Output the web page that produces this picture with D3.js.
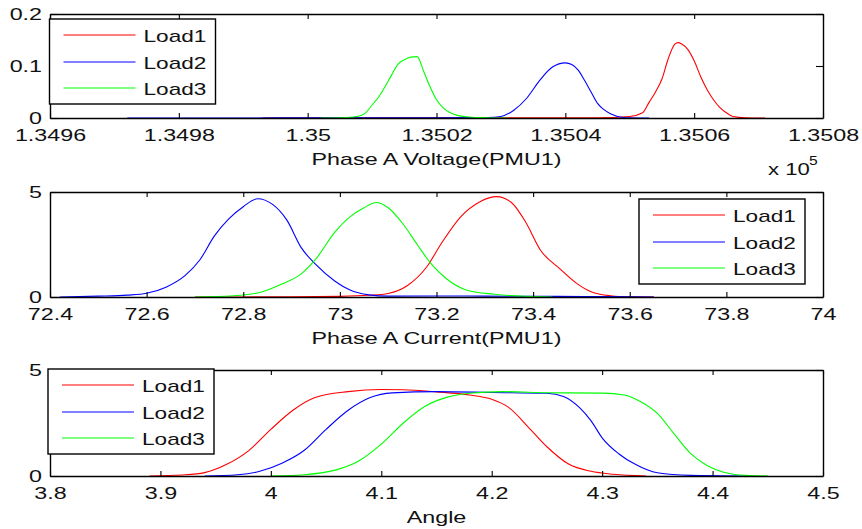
<!DOCTYPE html>
<html>
<head>
<meta charset="utf-8">
<script src="https://cdn.jsdelivr.net/npm/d3@7"></script>
<style>
  body { margin: 0; background: #fff; }
  text { font-family: "Liberation Sans", Arial, sans-serif; fill: #111; }
</style>
</head>
<body>
<div id="chart"></div>
<script>
// ---- data ----
var seriesNames = ["Load1", "Load2", "Load3"];

// Phase A voltage (x in units of 1e5 V)
var voltX1 = [1.34993, 1.35045, 1.3505, 1.35052, 1.35053, 1.35054, 1.35055, 1.35056, 1.35057, 1.350575, 1.35058, 1.35059, 1.3506, 1.35061, 1.35062, 1.35063, 1.35064, 1.35065, 1.35066, 1.35068, 1.35071];
var voltY1 = [0, 0.0005, 0.003, 0.01, 0.03, 0.05, 0.075, 0.115, 0.142, 0.145, 0.143, 0.132, 0.11, 0.08, 0.055, 0.035, 0.02, 0.01, 0.003, 0.0005, 0];
var voltX2 = [1.34972, 1.3502, 1.35028, 1.3503, 1.35032, 1.35034, 1.35036, 1.35038, 1.3504, 1.35041, 1.35042, 1.35043, 1.35044, 1.35045, 1.35046, 1.35047, 1.35049, 1.35053];
var voltY2 = [0, 0.0005, 0.001, 0.003, 0.015, 0.038, 0.072, 0.098, 0.106, 0.103, 0.092, 0.072, 0.05, 0.028, 0.016, 0.008, 0.001, 0];
var voltX3 = [1.35002, 1.35006, 1.35008, 1.35009, 1.3501, 1.35011, 1.35012, 1.35013, 1.35014, 1.35015, 1.35016, 1.35017, 1.35018, 1.35019, 1.3502, 1.35021, 1.35022, 1.35023, 1.35025, 1.35028, 1.35031];
var voltY3 = [0, 0.001, 0.004, 0.01, 0.025, 0.04, 0.06, 0.082, 0.103, 0.112, 0.117, 0.118, 0.09, 0.06, 0.035, 0.02, 0.011, 0.006, 0.002, 0.0005, 0];

// Phase A current
var currX1 = [72.7, 72.9, 73.0, 73.06, 73.1, 73.14, 73.18, 73.21, 73.25, 73.29, 73.325, 73.355, 73.385, 73.415, 73.455, 73.49, 73.52, 73.56, 73.6, 73.65];
var currY1 = [0, 0.01, 0.03, 0.08, 0.17, 0.55, 1.44, 2.55, 3.82, 4.54, 4.78, 4.5, 3.55, 2.24, 1.35, 0.65, 0.25, 0.06, 0.01, 0];
var currX2 = [72.42, 72.5, 72.56, 72.6, 72.64, 72.68, 72.71, 72.74, 72.77, 72.8, 72.83, 72.86, 72.89, 72.92, 72.95, 72.99, 73.02, 73.06, 73.1, 73.2, 73.3, 73.45, 73.55, 73.65];
var currY2 = [0, 0.04, 0.09, 0.18, 0.47, 1.03, 1.76, 2.9, 3.72, 4.3, 4.68, 4.42, 3.67, 2.35, 1.55, 0.75, 0.34, 0.1, 0.04, 0.05, 0.04, 0.03, 0.02, 0];
var currX3 = [72.7, 72.78, 72.84, 72.88, 72.92, 72.95, 72.99, 73.02, 73.05, 73.075, 73.1, 73.13, 73.16, 73.19, 73.22, 73.26, 73.32, 73.39, 73.44];
var currY3 = [0, 0.06, 0.25, 0.62, 1.1, 1.8, 3.1, 3.8, 4.25, 4.5, 4.25, 3.5, 2.5, 1.55, 0.88, 0.35, 0.13, 0.03, 0];

// Angle
var angX1 = [3.89, 3.92, 3.94, 3.96, 3.98, 4.0, 4.02, 4.04, 4.07, 4.1, 4.12, 4.15, 4.18, 4.2, 4.215, 4.235, 4.25, 4.27, 4.29, 4.31, 4.34];
var angY1 = [0, 0.05, 0.16, 0.55, 1.2, 2.2, 3.1, 3.7, 3.98, 4.08, 4.07, 3.97, 3.82, 3.62, 3.25, 2.2, 1.38, 0.55, 0.22, 0.08, 0];
var angX2 = [3.94, 3.97, 3.99, 4.01, 4.03, 4.05, 4.07, 4.09, 4.11, 4.15, 4.2, 4.25, 4.265, 4.28, 4.29, 4.3, 4.315, 4.33, 4.35, 4.38, 4.43];
var angY2 = [0, 0.06, 0.22, 0.6, 1.2, 2.2, 3.1, 3.7, 3.92, 3.98, 3.94, 3.9, 3.75, 3.2, 2.6, 1.8, 1.05, 0.55, 0.15, 0.03, 0];
var angX3 = [4.0, 4.03, 4.06, 4.08, 4.1, 4.12, 4.14, 4.16, 4.18, 4.21, 4.25, 4.3, 4.32, 4.335, 4.35, 4.365, 4.38, 4.395, 4.41, 4.43, 4.45];
var angY3 = [0, 0.06, 0.3, 0.72, 1.5, 2.5, 3.3, 3.72, 3.9, 3.98, 3.93, 3.91, 3.82, 3.5, 2.95, 2.0, 1.07, 0.5, 0.18, 0.03, 0];

// tick values and labels
var voltTicks = [1.3496, 1.3498, 1.35, 1.3502, 1.3504, 1.3506, 1.3508];
var voltTickLabels = ["1.3496", "1.3498", "1.35", "1.3502", "1.3504", "1.3506", "1.3508"];
var voltYTicks = [0, 0.1, 0.2];
var voltYTickLabels = ["0", "0.1", "0.2"];
var currTicks = [72.4, 72.6, 72.8, 73, 73.2, 73.4, 73.6, 73.8, 74];
var currTickLabels = ["72.4", "72.6", "72.8", "73", "73.2", "73.4", "73.6", "73.8", "74"];
var angTicks = [3.8, 3.9, 4, 4.1, 4.2, 4.3, 4.4, 4.5];
var angTickLabels = ["3.8", "3.9", "4", "4.1", "4.2", "4.3", "4.4", "4.5"];
var fiveYTicks = [0, 5];
var fiveYTickLabels = ["0", "5"];

var colors = ["#ff0000", "#0000ff", "#00ff00"];

// ---- layout ----
var W = 862, H = 529;
var left = 50, right = 823;

var svg = d3.select("#chart").append("svg")
    .attr("width", W)
    .attr("height", H);

// text in the source is stretched horizontally
function stretch(sel, k) {
    sel.each(function() {
        var len = this.getComputedTextLength();
        if (len > 0) {
            d3.select(this)
                .attr("textLength", len * k)
                .attr("lengthAdjust", "spacingAndGlyphs");
        }
    });
}

var panels = [
    { top: 14, bottom: 118, xDom: [1.3496, 1.3508], yDom: [0, 0.2],
      xTicks: voltTicks, xLabels: voltTickLabels, yTicks: voltYTicks, yLabels: voltYTickLabels,
      xs: [voltX1, voltX2, voltX3], ys: [voltY1, voltY2, voltY3],
      title: "Phase A Voltage(PMU1)", legend: { x: 49.5, y: 19 } },
    { top: 192, bottom: 297, xDom: [72.4, 74], yDom: [0, 5],
      xTicks: currTicks, xLabels: currTickLabels, yTicks: fiveYTicks, yLabels: fiveYTickLabels,
      xs: [currX1, currX2, currX3], ys: [currY1, currY2, currY3],
      title: "Phase A Current(PMU1)", legend: { x: 639, y: 199 } },
    { top: 370, bottom: 476, xDom: [3.8, 4.5], yDom: [0, 5],
      xTicks: angTicks, xLabels: angTickLabels, yTicks: fiveYTicks, yLabels: fiveYTickLabels,
      xs: [angX1, angX2, angX3], ys: [angY1, angY2, angY3],
      title: "Angle", legend: { x: 48, y: 369 } }
];

panels.forEach(function(p, pi) {
    var x = d3.scaleLinear().domain(p.xDom).range([left, right]);
    var y = d3.scaleLinear().domain(p.yDom).range([p.bottom, p.top]);
    var g = svg.append("g");

    // curves
    var line = d3.line()
        .x(function(d) { return x(d[0]); })
        .y(function(d) { return y(d[1]); })
        .curve(d3.curveMonotoneX);
    p.xs.forEach(function(xv, si) {
        var pts = xv.map(function(v, k) { return [v, p.ys[si][k]]; });
        g.append("path")
            .datum(pts)
            .attr("fill", "none")
            .attr("stroke", colors[si])
            .attr("stroke-width", 1.1)
            .attr("d", line);
    });

    // axes, MATLAB style: ticks inside, box all round
    var fmtX = function(d) { return p.xLabels[p.xTicks.indexOf(d)]; };
    var fmtY = function(d) { return p.yLabels[p.yTicks.indexOf(d)]; };

    var axB = g.append("g")
        .attr("transform", "translate(0," + p.bottom + ")")
        .call(d3.axisBottom(x).tickValues(p.xTicks).tickFormat(fmtX)
            .tickSizeInner(-5).tickSizeOuter(0).tickPadding(11));
    g.append("g")
        .attr("transform", "translate(0," + p.top + ")")
        .call(d3.axisTop(x).tickValues(p.xTicks).tickFormat("")
            .tickSizeInner(-5).tickSizeOuter(0));
    var axL = g.append("g")
        .attr("transform", "translate(" + left + ",0)")
        .call(d3.axisLeft(y).tickValues(p.yTicks).tickFormat(fmtY)
            .tickSizeInner(-7).tickSizeOuter(0).tickPadding(8));
    g.append("g")
        .attr("transform", "translate(" + right + ",0)")
        .call(d3.axisRight(y).tickValues(p.yTicks).tickFormat("")
            .tickSizeInner(-7).tickSizeOuter(0));

    g.selectAll(".domain").attr("stroke", "#000").attr("stroke-width", 1.4);
    g.selectAll(".tick line").attr("stroke", "#000").attr("stroke-width", 1.1);
    g.selectAll(".tick text")
        .attr("font-family", "Liberation Sans, Arial, sans-serif")
        .attr("font-size", 17)
        .attr("fill", "#111");
    stretch(axB.selectAll(".tick text"), 1.37);
    stretch(axL.selectAll(".tick text"), 1.37);

    // axis title
    g.append("text")
        .attr("x", (left + right) / 2)
        .attr("y", p.bottom + 47)
        .attr("text-anchor", "middle")
        .attr("font-size", 17)
        .text(p.title)
        .call(stretch, 1.37);

    // legend
    var lg = g.append("g").attr("transform", "translate(" + p.legend.x + "," + p.legend.y + ")");
    lg.append("rect")
        .attr("width", 166).attr("height", 85)
        .attr("fill", "#fff")
        .attr("stroke", "#000")
        .attr("stroke-width", 1.4);
    seriesNames.forEach(function(name, si) {
        // keep the sample lines on whole-pixel rows so they blend over two rows, like the source
        var ry = Math.round(p.legend.y + 16 + si * 26.5) - p.legend.y;
        lg.append("line")
            .attr("x1", 14).attr("x2", 86)
            .attr("y1", ry).attr("y2", ry)
            .attr("stroke", colors[si])
            .attr("stroke-width", 1.2);
        lg.append("text")
            .attr("x", 94)
            .attr("y", ry + 6.5)
            .attr("font-size", 17)
            .text(name)
            .call(stretch, 1.33);
    });
});

// exponent label under the voltage axis
svg.append("text")
    .attr("x", 768)
    .attr("y", 175)
    .attr("font-size", 17)
    .text("x 10")
    .call(stretch, 1.3);
svg.append("text")
    .attr("x", 809)
    .attr("y", 165)
    .attr("font-size", 12)
    .text("5")
    .call(stretch, 1.3);
</script>
</body>
</html>
